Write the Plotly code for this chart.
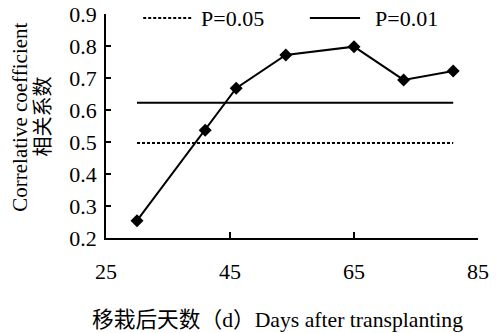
import plotly.graph_objects as go

days = [30, 41, 46, 54, 65, 73, 81]
corr = [0.254, 0.537, 0.668, 0.772, 0.798, 0.694, 0.722]
p05_value = 0.497
p01_value = 0.623
x_ticks = [25, 45, 65, 85]
y_ticks = [0.2, 0.3, 0.4, 0.5, 0.6, 0.7, 0.8, 0.9]

FONT = "Liberation Serif, Times New Roman, Noto Sans CJK SC, serif"

fig = go.Figure()
fig.add_trace(go.Scatter(
    x=[days[0], days[-1]], y=[p05_value, p05_value], mode="lines",
    line=dict(color="black", width=2, dash="3px,2px"), showlegend=False, hoverinfo="skip"))
fig.add_trace(go.Scatter(
    x=[days[0], days[-1]], y=[p01_value, p01_value], mode="lines",
    line=dict(color="black", width=2), showlegend=False, hoverinfo="skip"))
fig.add_trace(go.Scatter(
    x=days, y=corr, mode="lines+markers",
    line=dict(color="black", width=2),
    marker=dict(symbol="diamond", size=10, color="black"), showlegend=False))

# legend drawn with shapes + text
fig.add_shape(type="line", xref="paper", yref="paper", x0=0.10, x1=0.233, y0=0.982, y1=0.982,
              line=dict(color="black", width=2, dash="3px,2px"))
fig.add_annotation(xref="paper", yref="paper", x=0.25, y=0.982, text="P=0.05", showarrow=False,
                   xanchor="left", yanchor="middle", font=dict(family=FONT, size=22, color="black"))
fig.add_shape(type="line", xref="paper", yref="paper", x0=0.548, x1=0.683, y0=0.982, y1=0.982,
              line=dict(color="black", width=2))
fig.add_annotation(xref="paper", yref="paper", x=0.717, y=0.982, text="P=0.01", showarrow=False,
                   xanchor="left", yanchor="middle", font=dict(family=FONT, size=22, color="black"))

# axis titles
fig.add_annotation(xref="paper", yref="paper", x=0.46, y=-0.365, text="移栽后天数（d）Days after transplanting",
                   showarrow=False, xanchor="center", yanchor="middle",
                   font=dict(family=FONT, size=21.7, color="black"))
fig.add_annotation(xref="paper", yref="paper", x=-0.232, y=0.54,
                   text="Correlative coefficient", textangle=-90,
                   showarrow=False, xanchor="center", yanchor="middle",
                   font=dict(family=FONT, size=21, color="black"))
fig.add_annotation(xref="paper", yref="paper", x=-0.168, y=0.54,
                   text="相关系数", textangle=-90,
                   showarrow=False, xanchor="center", yanchor="middle",
                   font=dict(family=FONT, size=20, color="black"))

fig.update_layout(
    width=496, height=333,
    margin=dict(l=106, r=18, t=14, b=95),
    paper_bgcolor="white", plot_bgcolor="white",
    font=dict(family=FONT, size=22, color="black"),
)
fig.update_xaxes(range=[25, 85], tickvals=x_ticks, ticktext=[str(v) for v in x_ticks],
                 automargin=False,
                 showgrid=False, zeroline=False, showline=True, linecolor="black", linewidth=1.5,
                 ticks="inside", ticklen=6, tickwidth=1.5, tickcolor="black", ticklabelstandoff=13)
fig.update_yaxes(range=[0.2, 0.9], tickvals=y_ticks, ticktext=[f"{v:.1f}" for v in y_ticks],
                 automargin=False,
                 showgrid=False, zeroline=False, showline=True, linecolor="black", linewidth=1.5,
                 ticks="inside", ticklen=5, tickwidth=1.5, tickcolor="black", ticklabelstandoff=3)

fig.write_html("out.html", config={"displayModeBar": False},
               post_script="document.body.style.margin='0';")
